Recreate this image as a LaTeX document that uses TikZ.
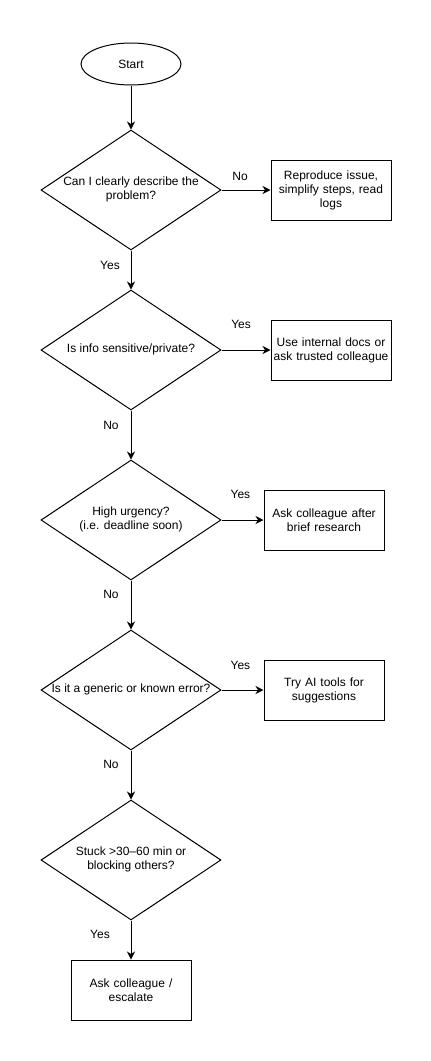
\documentclass[tikz,border=0pt]{standalone}
\usepackage{fontspec}
\setmainfont{Liberation Sans}
\usepackage{tikz}
\usetikzlibrary{shapes.geometric, arrows.meta, positioning}

\newcommand{\qtext}[1]{\makebox[0pt]{\begin{tabular}{@{}c@{}}#1\end{tabular}}}

\tikzset{
  startstop/.style={draw, ellipse, line width=1pt, minimum width=100pt, minimum height=42pt, inner sep=0pt},
  decision/.style={draw, diamond, line width=1pt, minimum width=180pt, minimum height=120pt, inner sep=0pt},
  process/.style={draw, rectangle, line width=1pt, text width=116pt, inner sep=2pt, minimum height=60pt, align=center},
  arrow/.style={line width=1pt, -{Stealth[length=8pt, width=8pt, inset=2.5pt]}},
  lbl/.style={inner sep=0pt, font=\fontsize{12}{14}\selectfont}
}

\begin{document}
\begin{tikzpicture}[x=1pt, y=-1pt, font=\fontsize{12}{14}\selectfont]
  \useasboundingbox (0,0) rectangle (431,1061);

  \node[startstop] (start) at (131,64) {Start};
  \node[decision] (clear) at (131,190) {\qtext{Can I clearly describe the\\problem?}};
  \node[decision] (sensitive) at (131,350) {\qtext{Is info sensitive/private?}};
  \node[decision] (urgent) at (131,520) {\qtext{High urgency?\\(i.e. deadline soon)}};
  \node[decision] (generic) at (131,690) {\qtext{Is it a generic or known error?}};
  \node[decision] (stuck) at (131,860) {\qtext{Stuck >30--60 min or\\blocking others?}};

  \node[process] (reproduce) at (331,190) {Reproduce issue,\\simplify steps, read\\logs};
  \node[process] (internal) at (331,350) {Use internal docs or\\ask trusted colleague};
  \node[process] (briefres) at (324,520) {Ask colleague after\\brief research};
  \node[process] (aitools) at (324,690) {Try AI tools for\\suggestions};
  \node[process] (escalate) at (131,990) {Ask colleague /\\escalate};

  \draw[arrow] (start) -- (clear);
  \draw[arrow] (clear) -- node[lbl, pos=0.38, yshift=14pt] (lno1) {No} (reproduce);
  \draw[arrow] (clear) -- node[lbl, pos=0.375, xshift=-21pt] (lyes1) {Yes} (sensitive);
  \draw[arrow] (sensitive) -- node[lbl, pos=0.4, yshift=26pt] (lyes2) {Yes} (internal);
  \draw[arrow] (sensitive) -- node[lbl, pos=0.3, xshift=-20pt] (lno2) {No} (urgent);
  \draw[arrow] (urgent) -- node[lbl, pos=0.45, yshift=26pt] (lyes3) {Yes} (briefres);
  \draw[arrow] (urgent) -- node[lbl, pos=0.28, xshift=-20pt] (lno3) {No} (generic);
  \draw[arrow] (generic) -- node[lbl, pos=0.45, yshift=25pt] (lyes4) {Yes} (aitools);
  \draw[arrow] (generic) -- node[lbl, pos=0.28, xshift=-20pt] (lno4) {No} (stuck);
  \draw[arrow] (stuck) -- node[lbl, pos=0.35, xshift=-31pt] (lyes5) {Yes} (escalate);
\end{tikzpicture}
\end{document}
